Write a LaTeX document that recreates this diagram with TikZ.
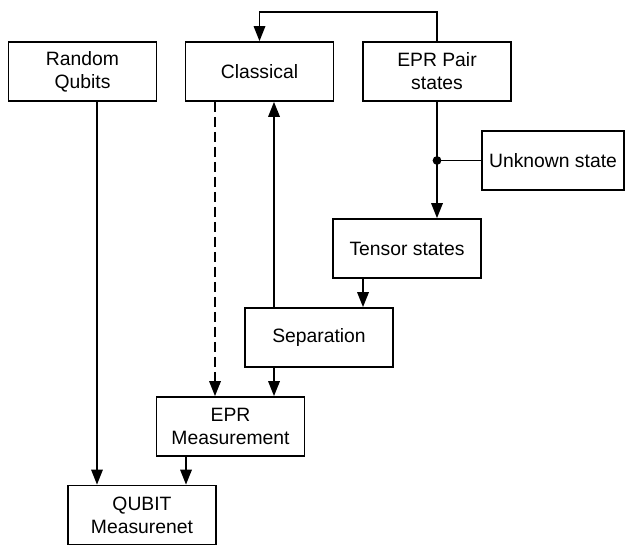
\documentclass[tikz,border=0pt]{standalone}
\usepackage{fontspec}
\setmainfont{Liberation Sans}
\usepackage{tikz}
\usetikzlibrary{arrows.meta,calc}
\newcommand{\drawarrow}{\draw[line width=1pt,-{Triangle[length=3mm,width=2.3mm]}]}
\newcommand{\drawline}{\draw[line width=1pt]}
\tikzset{
  block/.style={draw,line width=1pt,minimum width=2.96cm,minimum height=1.18cm,
    inner sep=0pt,align=center,font=\fontsize{11}{13}\selectfont}
}
\begin{document}
\begin{tikzpicture}[x=0.02cm,y=-0.02cm]
\useasboundingbox (0,0) rectangle (625,546);
\node[block] (rq) at (82.5,71.5) {Random\\Qubits};
\node[block] (cl) at (259.5,71.5) {Classical};
\node[block] (epr) at (437,71.5) {EPR Pair\\states};
\node[block,minimum width=2.84cm] (unk) at (553,160.5) {Unknown state};
\node[block] (ten) at (407,248.5) {Tensor states};
\node[block] (sep) at (319,337.5) {Separation};
\node[block] (eprm) at (230.5,426.5) {EPR\\Measurement};
\node[block] (qm) at (142,515) {QUBIT\\Measurenet};
\coordinate (jn) at (epr.south |- unk.west);
\drawarrow (epr.north) -- ++(0,-29) -| (cl.north);
\drawarrow ([xshift=0.29cm]rq.south) -- ([xshift=0.29cm]rq.south |- qm.north);
\drawarrow[dash pattern=on 2mm off 1mm] ([xshift=-0.89cm]cl.south) -- ([xshift=-0.89cm]cl.south |- eprm.north);
\drawarrow ([xshift=-0.9cm]sep.north) -- ([xshift=-0.9cm]sep.north |- cl.south);
\drawarrow ([xshift=-0.9cm]sep.south) -- ([xshift=-0.9cm]sep.south |- eprm.north);
\drawarrow (epr.south) -- (epr.south |- ten.north);
\drawline (jn) -- (unk.west);
\fill (jn) circle[radius=2.5pt];
\drawarrow ([xshift=-0.88cm]ten.south) -- ([xshift=-0.88cm]ten.south |- sep.north);
\drawarrow ([xshift=-0.89cm]eprm.south) -- ([xshift=-0.89cm]eprm.south |- qm.north);
\end{tikzpicture}
\end{document}
